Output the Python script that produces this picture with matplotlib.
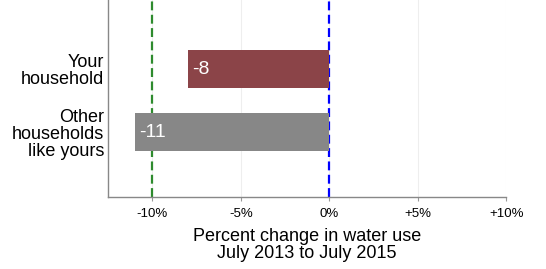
import matplotlib.pyplot as plt

categories = ["Your\nhousehold", "Other\nhouseholds\nlike yours"]
values = [-8, -11]
colors = ["#8B4448", "#878787"]
xticks = [-10, -5, 0, 5, 10]
xticklabels = ["-10%", "-5%", "0%", "+5%", "+10%"]
target = -10


def main():
    plt.rcParams["font.family"] = ["Liberation Sans", "DejaVu Sans"]
    fig = plt.figure(figsize=(5.46, 2.69), dpi=100)
    ax = fig.add_axes([0.198, 0.268, 0.729, 0.732])

    pos = list(range(len(categories)))
    ax.axvline(target, color="#2E8B2E", lw=1.6, ls=(0, (4, 2)), zorder=1)
    ax.axvline(0, color="#0000FF", lw=1.6, ls=(0, (4, 2)), zorder=1)

    ax.barh(pos, values, height=0.6, color=colors, zorder=2)
    for p, v in zip(pos, values):
        ax.text(v + 0.25, p, str(v), color="white", fontsize=14,
                va="center", ha="left", zorder=3)

    ax.set_xlim(-12.5, 10)
    ax.set_ylim(2.03, -1.1)
    ax.set_yticks(pos)
    ax.set_yticklabels(categories, fontsize=13, linespacing=1.0)
    ax.set_xticks(xticks)
    ax.set_xticklabels(xticklabels, fontsize=9.5)
    ax.tick_params(axis="y", length=0, pad=3)
    ax.tick_params(axis="x", length=3, color="#999999", pad=5)
    ax.grid(axis="x", color="#eeeeee", lw=0.8, zorder=0)
    ax.set_axisbelow(True)
    for s in ["top", "right"]:
        ax.spines[s].set_visible(False)
    for s in ["left", "bottom"]:
        ax.spines[s].set_color("#888888")
        ax.spines[s].set_linewidth(1.0)
    ax.set_xlabel("Percent change in water use\nJuly 2013 to July 2015",
                  fontsize=13, linespacing=0.95, labelpad=6)

    fig.savefig("out.png", dpi=100)


if __name__ == "__main__":
    main()
